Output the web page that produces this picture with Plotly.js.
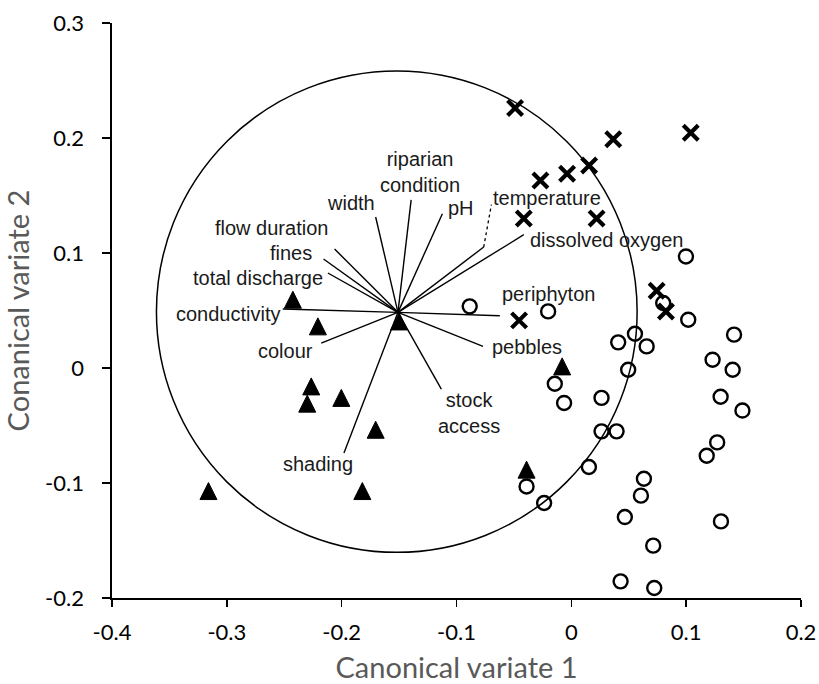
<!DOCTYPE html>
<html>
<head>
<meta charset="utf-8">
<script src="https://cdn.plot.ly/plotly-3.0.1.min.js"></script>
<style>
  html, body { margin: 0; padding: 0; background: #ffffff; }
  #chart { width: 819px; height: 684px; }
</style>
</head>
<body>
<div id="chart"></div>
<script>
// ---- Group scores (canonical variate 1, canonical variate 2) ----
const crossX = [-0.049, 0.0365, 0.1040, 0.0155, -0.0037, -0.0269, -0.0414, 0.0220, 0.0743, 0.0824, -0.0455];
const crossY = [0.226, 0.199, 0.2046, 0.176, 0.169, 0.163, 0.130, 0.130, 0.0672, 0.0492, 0.0414];

const circleX = [-0.0885, -0.0202, 0.0998, 0.0800, 0.1018, 0.0554, 0.0408, 0.0656, 0.1417, 0.1230,
                 0.1405, 0.0495, -0.0144, -0.0063, 0.0263, 0.1300, 0.1490, 0.0263, 0.0394, 0.1270,
                 0.1179, 0.0153, -0.0390, -0.0237, 0.0632, 0.0606, 0.0466, 0.1303, 0.0713, 0.0429, 0.0722];
const circleY = [0.0536, 0.0492, 0.0970, 0.0565, 0.0420, 0.0298, 0.0223, 0.0188, 0.0290, 0.0072,
                 -0.0015, -0.0015, -0.0137, -0.0304, -0.0260, -0.0250, -0.0370, -0.0551, -0.0551, -0.0647,
                 -0.0763, -0.0861, -0.1030, -0.1174, -0.0963, -0.1110, -0.1296, -0.1334, -0.1545, -0.1855, -0.1913];

const triX = [-0.2425, -0.2207, -0.1500, -0.0080, -0.2265, -0.2300, -0.2003, -0.1704, -0.0390, -0.3160, -0.1820];
const triY = [0.0594, 0.0362, 0.0405, 0.0014, -0.0160, -0.0310, -0.0260, -0.0537, -0.0884, -0.1070, -0.1070];

// ---- Environmental variable vectors (from common origin) ----
const vecOrigin = [-0.151, 0.0484];
const vecNames = ["width", "riparian<br>condition", "pH", "temperature", "dissolved oxygen",
                  "flow duration", "fines", "total discharge", "conductivity", "colour",
                  "shading", "stock<br>access", "pebbles", "periphyton"];
const vecX = [-0.1704, -0.1395, -0.1123, -0.0763, -0.0414, -0.2062, -0.2158, -0.2120, -0.2513, -0.2178,
              -0.1980, -0.1132, -0.0769, -0.0623];
const vecY = [0.1313, 0.1462, 0.1342, 0.1052, 0.1159, 0.1035, 0.0948, 0.0826, 0.0513, 0.0217,
              -0.0739, -0.0183, 0.0188, 0.0455];
// dotted leader from the temperature vector tip to its label
const tempLeaderX = [-0.0763, -0.0696];
const tempLeaderY = [0.1052, 0.1420];

// ---- Correlation circle ----
const circleCentre = [-0.152, 0.049];
const circleRadius = 0.2093;

// ---- Axis ticks ----
const xTickVals = [-0.4, -0.3, -0.2, -0.1, 0, 0.1, 0.2];
const xTickText = ["-0.4", "-0.3", "-0.2", "-0.1", "0", "0.1", "0.2"];
const yTickVals = [-0.2, -0.1, 0, 0.1, 0.2, 0.3];
const yTickText = ["-0.2", "-0.1", "0", "0.1", "0.2", "0.3"];

// ---- Label placement (layout) ----
const labelPos = [
  [-0.1916, 0.1435], [-0.132, 0.1707], [-0.0961, 0.139], [-0.0214, 0.1478], [0.031, 0.1116],
  [-0.2614, 0.1217], [-0.2439, 0.100], [-0.2731, 0.0783], [-0.2986, 0.0472], [-0.2493, 0.0144],
  [-0.2207, -0.0832], [-0.0888, -0.0393], [-0.0388, 0.0183], [-0.0203, 0.0646]
];

// build vector line trace
const vx = [], vy = [];
for (let i = 0; i < vecX.length; i++) {
  vx.push(vecOrigin[0], vecX[i], null);
  vy.push(vecOrigin[1], vecY[i], null);
}

const traces = [
  { type: 'scatter', mode: 'lines', x: vx, y: vy, hoverinfo: 'skip',
    line: { color: '#000000', width: 1.4 }, showlegend: false },
  { type: 'scatter', mode: 'lines', x: tempLeaderX, y: tempLeaderY, hoverinfo: 'skip',
    line: { color: '#000000', width: 1.3, dash: 'dot' }, showlegend: false },
  { type: 'scatter', mode: 'markers', x: circleX, y: circleY, showlegend: false,
    marker: { symbol: 'circle-open', size: 14, color: '#000000', line: { color: '#000000', width: 2.4 } } },
  { type: 'scatter', mode: 'markers', x: triX, y: triY, showlegend: false,
    marker: { symbol: 'arrow-down', angle: 180, standoff: 8.5, size: 17, color: '#000000',
              line: { color: '#000000', width: 1 } } },
  { type: 'scatter', mode: 'markers', x: crossX, y: crossY, showlegend: false,
    marker: { symbol: 'x-thin-open', size: 15, color: '#000000', line: { color: '#000000', width: 4.2 } } }
];

const annotations = vecNames.map((t, i) => ({
  x: labelPos[i][0], y: labelPos[i][1], xref: 'x', yref: 'y',
  text: t, showarrow: false, xanchor: 'center', yanchor: 'middle', align: 'center',
  font: { family: 'Liberation Sans, Arial, sans-serif', size: 20, color: '#1a1a1a' }
}));

const layout = {
  width: 819, height: 684,
  margin: { l: 112, r: 18, t: 23, b: 86 },
  paper_bgcolor: '#ffffff', plot_bgcolor: '#ffffff',
  showlegend: false,
  xaxis: {
    range: [-0.4, 0.2], tickvals: xTickVals, ticktext: xTickText,
    showgrid: false, zeroline: false, showline: true, linecolor: '#000000', linewidth: 1.6,
    ticks: 'outside', ticklen: 7, tickwidth: 1.6, tickcolor: '#000000', ticklabelstandoff: 7,
    tickfont: { family: 'Lato, sans-serif', size: 22, color: '#000000' },
    title: { text: 'Canonical variate 1', standoff: 16,
             font: { family: 'Lato, sans-serif', size: 29, color: '#595959' } }
  },
  yaxis: {
    range: [-0.2, 0.3], tickvals: yTickVals, ticktext: yTickText,
    showgrid: false, zeroline: false, showline: true, linecolor: '#000000', linewidth: 1.6,
    ticks: 'outside', ticklen: 8, tickwidth: 1.6, tickcolor: '#000000', ticklabelstandoff: 14,
    tickfont: { family: 'Lato, sans-serif', size: 22, color: '#000000' },
    title: { text: 'Conanical variate 2', standoff: 10,
             font: { family: 'Lato, sans-serif', size: 29, color: '#595959' } }
  },
  shapes: [{
    type: 'circle', xref: 'x', yref: 'y', layer: 'below',
    x0: circleCentre[0] - circleRadius, x1: circleCentre[0] + circleRadius,
    y0: circleCentre[1] - circleRadius, y1: circleCentre[1] + circleRadius,
    line: { color: '#000000', width: 1.5 }
  }],
  annotations: annotations
};

Plotly.newPlot('chart', traces, layout, { displayModeBar: false, staticPlot: true });
</script>
</body>
</html>
